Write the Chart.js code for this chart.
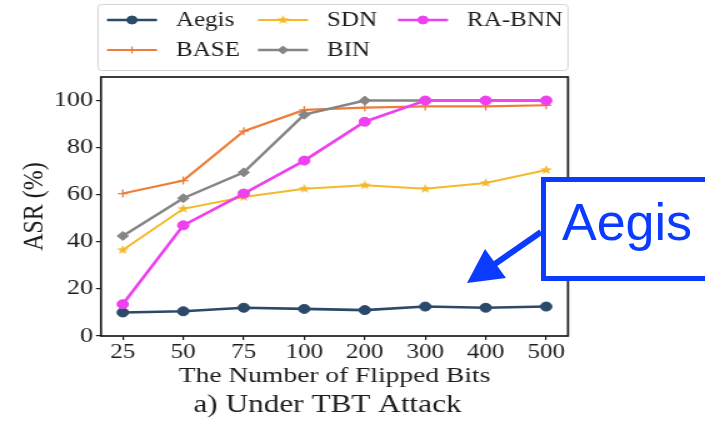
<!DOCTYPE html>
<html>
<head>
<meta charset="utf-8">
<script src="https://cdn.jsdelivr.net/npm/chart.js@4.4.1/dist/chart.umd.min.js"></script>
<style>
  html, body { margin: 0; padding: 0; background: #fff; }
  #fig { position: relative; width: 705px; height: 428px; overflow: hidden; background: #fff; }
  #plot { position: absolute; left: 0; top: 0; transform: scaleX(1.25); transform-origin: 0 0; }
  #note { position: absolute; left: 0; top: 0; }
</style>
</head>
<body>
<div id="fig">
  <canvas id="plot" width="564" height="428"></canvas>
  <svg id="note" width="705" height="428" xmlns="http://www.w3.org/2000/svg">
    <rect x="543.5" y="179.5" width="220" height="99" fill="#fff" stroke="#0b3bff" stroke-width="5"/>
    <text x="562" y="240" font-family="'Liberation Sans', Arial, sans-serif" font-size="52" fill="#0b3bff">Aegis</text>
    <line x1="541" y1="232" x2="492" y2="266" stroke="#0b3bff" stroke-width="6"/>
    <polygon points="467,283 485,249 506,278" fill="#0b3bff"/>
  </svg>
</div>
<script>
// Number of flipped bits (x categories) and y tick values
const flippedBits = ['25', '50', '75', '100', '200', '300', '400', '500'];
const asrTicks = [0, 20, 40, 60, 80, 100];

// Attack success rate (%) under the TBT attack
const aegisASR = [10, 10.5, 12, 11.5, 11, 12.5, 12, 12.5];
const baseASR  = [60.5, 66, 87, 96, 97, 97.5, 97.5, 98];
const sdnASR   = [36.5, 54, 59, 62.5, 64, 62.5, 65, 70.5];
const binASR   = [42.5, 58.5, 69.5, 94, 100, 100, 100, 100];
const raBnnASR = [13.5, 47, 60.5, 74.5, 91, 100, 100, 100];

const caption = 'a) Under TBT Attack';

const SERIF = "'Liberation Serif', 'Times New Roman', serif";
const INK = '#1c1c1c';

// small filled five-point star used as the SDN marker
function starMarker(color, r) {
  const size = Math.ceil(r * 2 + 2);
  const c = document.createElement('canvas');
  c.width = size; c.height = size;
  const g = c.getContext('2d');
  const cx = size / 2, cy = size / 2;
  g.beginPath();
  for (let k = 0; k < 10; k++) {
    const rad = k % 2 === 0 ? r : r * 0.42;
    const ang = -Math.PI / 2 + k * Math.PI / 5;
    const px = cx + rad * Math.cos(ang), py = cy + rad * Math.sin(ang);
    k === 0 ? g.moveTo(px, py) : g.lineTo(px, py);
  }
  g.closePath();
  g.fillStyle = color;
  g.fill();
  return c;
}

const toPoints = vals => vals.map((y, i) => ({ x: i, y }));

function series(label, vals, color, marker, radius, width, order) {
  return {
    label, data: toPoints(vals),
    borderColor: color, backgroundColor: color,
    borderWidth: width,
    pointStyle: marker, pointRadius: radius, pointHoverRadius: radius,
    pointBorderWidth: marker === 'cross' ? 1.3 : 1,
    pointBorderColor: color, pointBackgroundColor: color,
    tension: 0, order
  };
}

const datasets = [
  series('Aegis',  aegisASR, '#2b4a6a', 'circle', 4.5, 2.6, 5),
  series('BASE',   baseASR,  '#ee7d3a', 'cross', 4, 2.2, 4),
  series('SDN',    sdnASR,   '#f4b92a', starMarker('#f4b92a', 5), 5, 2.0, 3),
  series('BIN',    binASR,   '#858585', 'rectRot', 4.5, 2.4, 2),
  series('RA-BNN', raBnnASR, '#ee40ee', 'circle', 4.5, 2.6, 1)
];

// plot frame, caption under the axis title and a three-column key above the axes
const frameAndKey = {
  id: 'frameAndKey',
  afterDraw(chart) {
    const { ctx, chartArea: a } = chart;
    ctx.save();
    ctx.strokeStyle = INK;
    ctx.lineWidth = 1.7;
    ctx.strokeRect(a.left, a.top, a.right - a.left, a.bottom - a.top);

    // caption
    ctx.fillStyle = INK;
    ctx.font = '25px ' + SERIF;
    ctx.textAlign = 'center';
    ctx.textBaseline = 'middle';
    ctx.fillText(caption, 262, 405);

    // key frame
    const bx = 78.4, by = 4.5, bw = 454.4 - 78.4, bh = 66;
    ctx.beginPath();
    if (ctx.roundRect) ctx.roundRect(bx, by, bw, bh, 3); else ctx.rect(bx, by, bw, bh);
    ctx.fillStyle = 'rgba(255,255,255,0.85)';
    ctx.fill();
    ctx.strokeStyle = '#d4d4d4';
    ctx.lineWidth = 1;
    ctx.stroke();

    const cols = [85.6, 206.4, 318.4];
    const rows = [20, 50];
    const slots = [[0, 0], [0, 1], [1, 0], [1, 1], [2, 0]];
    ctx.font = '20px ' + SERIF;
    ctx.textBaseline = 'middle';
    ctx.textAlign = 'left';
    chart.data.datasets.forEach((ds, i) => {
      const x0 = cols[slots[i][0]], y = rows[slots[i][1]];
      ctx.strokeStyle = ds.borderColor;
      ctx.lineWidth = ds.borderWidth;
      ctx.beginPath();
      ctx.moveTo(x0, y);
      ctx.lineTo(x0 + 40, y);
      ctx.stroke();
      ctx.fillStyle = ds.pointBackgroundColor;
      ctx.strokeStyle = ds.pointBorderColor;
      ctx.lineWidth = ds.pointBorderWidth;
      Chart.helpers.drawPoint(ctx, {
        pointStyle: ds.pointStyle, rotation: 0,
        radius: ds.pointRadius - 0.5, borderWidth: ds.pointBorderWidth
      }, x0 + 20, y);
      ctx.fillStyle = INK;
      ctx.fillText(ds.label, x0 + 55.2, y + 1);
    });
    ctx.restore();
  }
};

new Chart(document.getElementById('plot'), {
  type: 'line',
  data: { datasets },
  plugins: [frameAndKey],
  options: {
    responsive: false,
    animation: false,
    devicePixelRatio: 1,
    layout: { padding: { top: 77, left: 0, right: 109.6, bottom: 38.8 } },
    plugins: {
      legend: { display: false },
      tooltip: { enabled: false },
      title: { display: false }
    },
    scales: {
      x: {
        type: 'linear',
        min: -0.36, max: 7.36,
        afterBuildTicks: s => { s.ticks = flippedBits.map((_, i) => ({ value: i })); },
        afterFit: s => { s.height = 53.2; },
        ticks: {
          callback: v => flippedBits[v],
          color: INK, padding: 1, maxRotation: 0, autoSkip: false,
          font: { family: SERIF, size: 20 }
        },
        grid: { display: true, drawOnChartArea: false, drawTicks: true, tickLength: 4, color: INK, lineWidth: 1.2 },
        border: { display: false },
        title: {
          display: true, text: 'The Number of Flipped Bits', color: INK,
          font: { family: SERIF, size: 22, lineHeight: 1.2 },
          padding: { top: 0, bottom: 0 }
        }
      },
      y: {
        min: 0, max: 110,
        afterBuildTicks: s => { s.ticks = asrTicks.map(v => ({ value: v })); },
        afterFit: s => { s.width = 80.8; },
        ticks: {
          color: INK, padding: 2.4,
          font: { family: SERIF, size: 21 }
        },
        grid: { display: true, drawOnChartArea: false, drawTicks: true, tickLength: 4, color: INK, lineWidth: 1.2 },
        border: { display: false },
        title: {
          display: true, text: 'ASR (%)', color: INK,
          font: { family: SERIF, size: 24, lineHeight: 1.2 },
          padding: { top: 13.6, bottom: 0 }
        }
      }
    }
  }
});
</script>
</body>
</html>
